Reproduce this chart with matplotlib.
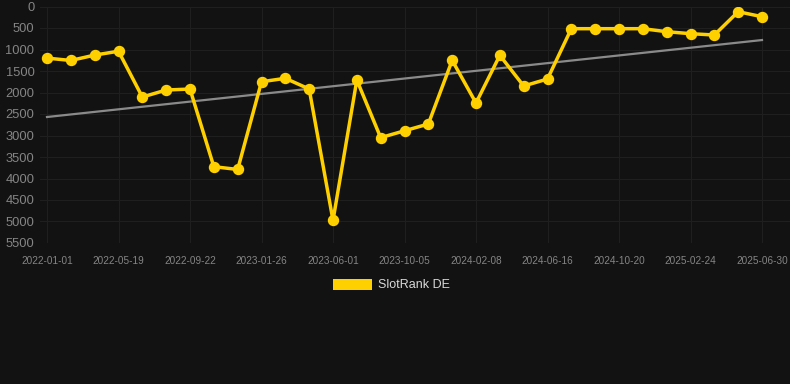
import matplotlib
matplotlib.use("Agg")
import matplotlib.pyplot as plt
from matplotlib.patches import Rectangle

plt.rcParams['font.family'] = ['Liberation Sans', 'DejaVu Sans']

tick_labels = ["2022-01-01", "2022-05-19", "2022-09-22", "2023-01-26", "2023-06-01",
               "2023-10-05", "2024-02-08", "2024-06-16", "2024-10-20", "2025-02-24",
               "2025-06-30"]
ranks = [1200, 1255, 1130, 1040, 2105, 1942, 1920, 3725, 3790, 1750, 1670, 1919,
         4975, 1710, 3050, 2890, 2733, 1252, 2245, 1135, 1849, 1686, 516, 516, 516,
         516, 586, 632, 663, 121, 237]
trend_start, trend_end = 2570, 780
series_name = "SlotRank DE"

W, H = 790, 384
fig = plt.figure(figsize=(W / 100, H / 100), dpi=100)
fig.patch.set_facecolor("#121212")
left, right, top, bottom = 40, 790, 6.5, 243
ax = fig.add_axes([left / W, 1 - bottom / H, (right - left) / W, (bottom - top) / H])
ax.set_facecolor("#121212")

x = list(range(len(ranks)))
px_per = (762 - 47) / (len(ranks) - 1)
ax.set_xlim(-(47 - left) / px_per, (len(ranks) - 1) + (right - 762) / px_per)
ax.set_ylim(5500, 0)

ax.plot([x[0], x[-1]], [trend_start, trend_end], color="#8a8a8a", lw=1.6, zorder=2)
ax.plot(x, ranks, color="#FFD000", lw=2.5, marker="o", ms=7.2, mec="#FFD000",
        mfc="#FFD000", zorder=3)

ax.set_yticks(range(0, 5501, 500))
ax.set_yticklabels([str(v) for v in range(0, 5501, 500)])
ax.set_xticks(x[::3])
ax.set_xticklabels(tick_labels)
ax.tick_params(axis="y", colors="#858585", labelsize=9.3, length=0, pad=4)
ax.tick_params(axis="x", colors="#858585", labelsize=7.2, length=0, pad=9)
ax.grid(True, color="#1f1f1f", lw=0.8)
for s in ax.spines.values():
    s.set_visible(False)

# legend
fig.patches.append(Rectangle((333 / W, 1 - 290 / H), 39 / W, 11 / H,
                             transform=fig.transFigure, facecolor="#FFD000",
                             edgecolor="none"))
fig.text(378 / W, 1 - 285 / H, series_name, color="#d8d8d8", fontsize=9,
         va="center", ha="left")

fig.savefig("out.png", dpi=100, facecolor=fig.get_facecolor())
